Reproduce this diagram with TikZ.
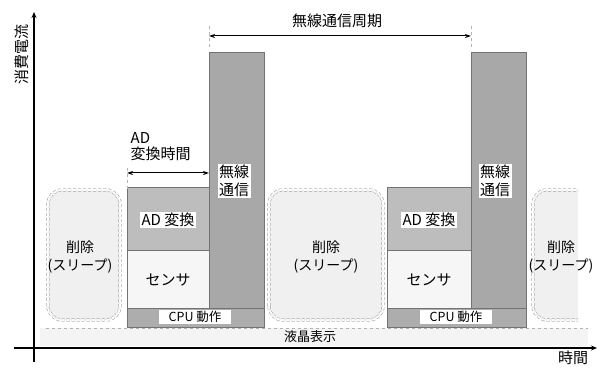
\documentclass[tikz,border=0pt]{standalone}
\usepackage{fontspec}
\setmainfont{Noto Sans CJK JP}
\usetikzlibrary{arrows.meta}
\definecolor{adgray}{HTML}{BDBDBD}
\definecolor{wlgray}{HTML}{A8A8A8}
\definecolor{cpugray}{HTML}{ADADAD}
\definecolor{sengray}{HTML}{F6F6F6}
\definecolor{slgray}{HTML}{F0F0F0}
\definecolor{lcdgray}{HTML}{F4F4F4}
\tikzset{
  blk/.style={draw=gray!90!black, line width=0.6pt},
  lbl/.style={font=\fontsize{15}{18}\selectfont, inner sep=1.5pt, align=center},
  wlbl/.style={lbl, fill=white},
  sllbl/.style={lbl, font=\fontsize{14}{18}\selectfont},
  sleepbox/.style={draw=gray!70, fill=slgray, densely dashed, double=white, double distance=2pt, rounded corners=14pt, line width=0.6pt},
  axis/.style={line width=1.4pt, -{Stealth[length=6pt,width=5pt]}},
  dim/.style={line width=1pt, {Stealth[length=6pt,width=4pt]}-{Stealth[length=6pt,width=4pt]}},
  tick/.style={draw=gray!60, dashed, line width=0.5pt}
}
\begin{document}
\begin{tikzpicture}[x=1pt,y=1pt]
\useasboundingbox (0,0) rectangle (601,369);
% LCD band
\fill[lcdgray] (40,23) rectangle (588,41);
\draw[gray!60, dashed, line width=0.6pt] (46,41) -- (588,41);
\node[lbl, font=\fontsize{13}{15}\selectfont] (lcd) at (310,32) {液晶表示};
% sleep boxes
\draw[sleepbox] (48,49) rectangle (120,179);
\node[sllbl] (s1) at (80,112) {削除\\(スリープ)};
\draw[sleepbox] (269,49) rectangle (383,179);
\node[sllbl] (s2) at (326,112) {削除\\(スリープ)};
\begin{scope}
\clip (520,40) rectangle (578,190);
\draw[sleepbox] (533,49) rectangle (620,179);
\end{scope}
\node[sllbl] (s3) at (561,112) {削除\\(スリープ)};
% cycle 1
\draw[blk, fill=wlgray] (209,42) rectangle (264,317);
\draw[blk, fill=adgray] (127,119) rectangle (209,182);
\draw[blk, fill=sengray] (127,61) rectangle (209,119);
\draw[blk, fill=cpugray] (127,42) rectangle (264,61);
\node[wlbl] (ad1) at (168,149) {AD 変換};
\node[lbl] (sen1) at (168,89) {センサ};
\node[wlbl, font=\fontsize{12.5}{14}\selectfont, minimum width=72pt] (cpu1) at (195,52) {CPU 動作};
\node[wlbl] (wl1) at (234,188) {無線\\通信};
% cycle 2
\draw[blk, fill=wlgray] (471,42) rectangle (526,317);
\draw[blk, fill=adgray] (387,119) rectangle (471,182);
\draw[blk, fill=sengray] (387,61) rectangle (471,119);
\draw[blk, fill=cpugray] (387,42) rectangle (526,61);
\node[wlbl] (ad2) at (429,149) {AD 変換};
\node[lbl] (sen2) at (429,89) {センサ};
\node[wlbl, font=\fontsize{12.5}{14}\selectfont, minimum width=72pt] (cpu2) at (456,52) {CPU 動作};
\node[wlbl] (wl2) at (495,188) {無線\\通信};
% dimension: cycle
\coordinate (c1) at (209,333);
\coordinate (c2) at (471,333);
\draw[tick] (209,322) -- (209,343);
\draw[tick] (471,322) -- (471,343);
\draw[dim] (c1) -- (c2);
\node[lbl] (cyc) at (337,348) {無線通信周期};
% dimension: AD time
\coordinate (a1) at (127,196);
\coordinate (a2) at (209,196);
\draw[tick] (127,180) -- (127,204);
\draw[dim] (a1) -- (a2);
\node[lbl, align=left, anchor=north west, font=\fontsize{15}{16}\selectfont] (adt) at (129,238) {AD\\変換時間};
% axes
\coordinate (yo) at (34,7);
\coordinate (yt) at (34,357);
\coordinate (xo) at (14,21);
\coordinate (xt) at (597,21);
\draw[axis] (yo) -- (yt);
\draw[axis] (xo) -- (xt);
\node[lbl, rotate=90] (ylab) at (22,314) {消費電流};
\node[lbl] (xlab) at (573,11) {時間};
\end{tikzpicture}
\end{document}
